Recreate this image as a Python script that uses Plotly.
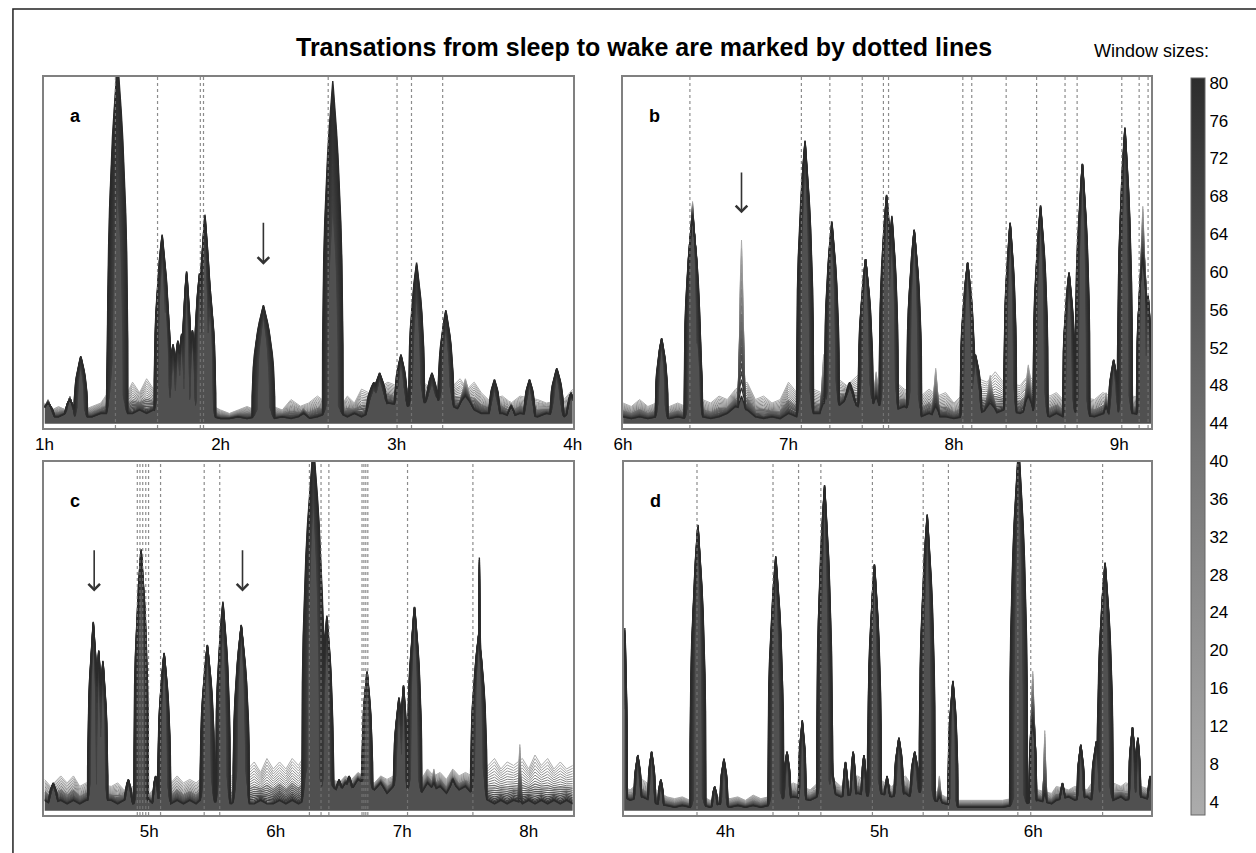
import numpy as np
import plotly.graph_objects as go

W, H = 1256, 853
FONT = "Liberation Sans, Arial, Helvetica, sans-serif"

TITLE = "Transations from sleep to wake are marked by dotted lines"
CB_TITLE = "Window sizes:"
WINDOW_SIZES = list(range(4, 84, 4))
CB_TICKS = list(range(4, 84, 4))

# ---------------- panel a ----------------
A_RANGE = [1.0, 4.0]
A_TICKS = [1, 2, 3, 4]
A_TICKTEXT = ["1h", "2h", "3h", "4h"]
A_PEAK_T = [1.02, 1.144, 1.206, 1.39, 1.415, 1.668, 1.69, 1.73, 1.757, 1.779, 1.807, 1.84, 1.88, 1.911, 1.94,
            2.243, 2.47, 2.637, 2.87, 2.903, 3.024, 3.113, 3.2, 3.279, 3.39, 3.555, 3.65, 3.754, 3.909, 3.99]
A_PEAK_DARK = [0.06, 0.07, 0.195, 0.22, 1.05, 0.546, 0.40, 0.23, 0.24, 0.26, 0.44, 0.27, 0.434, 0.603, 0.385,
               0.342, 0.03, 0.988, 0.12, 0.147, 0.20, 0.465, 0.147, 0.328, 0.08, 0.128, 0.05, 0.128, 0.16, 0.09]
A_PEAK_LIGHT = [0.07, 0.08, 0.17, 0.20, 0.68, 0.50, 0.35, 0.20, 0.22, 0.24, 0.40, 0.25, 0.40, 0.55, 0.35,
                0.31, 0.05, 0.63, 0.10, 0.13, 0.18, 0.37, 0.12, 0.28, 0.13, 0.10, 0.06, 0.11, 0.14, 0.08]
A_PEAK_W = [0.03, 0.025, 0.03, 0.03, 0.045, 0.035, 0.025, 0.02, 0.02, 0.02, 0.022, 0.02, 0.025, 0.03, 0.025,
            0.05, 0.03, 0.045, 0.035, 0.035, 0.03, 0.035, 0.03, 0.035, 0.04, 0.025, 0.02, 0.025, 0.03, 0.02]
A_BASE_T = [1.0, 1.04, 1.08, 1.12, 1.17, 1.22, 1.27, 1.32, 1.36, 1.46, 1.5, 1.54, 1.58, 1.62, 1.66, 1.96, 2.0,
            2.05, 2.1, 2.15, 2.2, 2.3, 2.35, 2.4, 2.45, 2.5, 2.55, 2.6, 2.68, 2.72, 2.76, 2.8, 2.84, 2.95, 3.05,
            3.15, 3.22, 3.32, 3.36, 3.4, 3.44, 3.48, 3.52, 3.6, 3.65, 3.7, 3.8, 3.85, 3.95, 4.0]
A_BASE_DARK = [0.05, 0.02, 0.02, 0.03, 0.015, 0.02, 0.02, 0.03, 0.03, 0.03, 0.03, 0.04, 0.03, 0.04, 0.03, 0.02,
               0.015, 0.015, 0.02, 0.015, 0.02, 0.015, 0.02, 0.015, 0.02, 0.015, 0.02, 0.03, 0.03, 0.02, 0.03,
               0.02, 0.03, 0.06, 0.05, 0.06, 0.07, 0.05, 0.04, 0.05, 0.04, 0.03, 0.03, 0.03, 0.02, 0.03, 0.02,
               0.03, 0.02, 0.04]
A_BASE_LIGHT = [0.06, 0.04, 0.05, 0.04, 0.05, 0.04, 0.05, 0.06, 0.09, 0.08, 0.12, 0.09, 0.13, 0.10, 0.12, 0.05,
                0.04, 0.03, 0.04, 0.05, 0.04, 0.05, 0.04, 0.07, 0.05, 0.06, 0.08, 0.06, 0.05, 0.08, 0.06, 0.10,
                0.09, 0.12, 0.10, 0.12, 0.09, 0.11, 0.13, 0.10, 0.12, 0.09, 0.07, 0.08, 0.06, 0.08, 0.07, 0.06,
                0.07, 0.10]
A_DOTTED = [1.403, 1.642, 1.885, 1.903, 2.611, 3.002, 3.084, 3.261]
A_ARROWS = [2.243]

# ---------------- panel b ----------------
B_RANGE = [6.0, 9.194]
B_TICKS = [6, 7, 8, 9]
B_TICKTEXT = ["6h", "7h", "8h", "9h"]
B_PEAK_T = [6.233, 6.42, 6.45, 6.716, 7.1, 7.213, 7.262, 7.37, 7.466, 7.53, 7.593, 7.625, 7.76, 7.89, 8.083,
            8.13, 8.22, 8.34, 8.45, 8.524, 8.696, 8.777, 8.92, 8.966, 9.034, 9.142, 9.174]
B_PEAK_DARK = [0.247, 0.60, 0.27, 0.08, 0.817, 0.06, 0.584, 0.12, 0.475, 0.08, 0.66, 0.60, 0.56, 0.05, 0.465,
               0.20, 0.06, 0.58, 0.08, 0.63, 0.437, 0.75, 0.05, 0.185, 0.855, 0.48, 0.37]
B_PEAK_LIGHT = [0.23, 0.641, 0.25, 0.53, 0.78, 0.20, 0.55, 0.10, 0.47, 0.15, 0.64, 0.55, 0.55, 0.16, 0.46,
                0.18, 0.14, 0.57, 0.17, 0.60, 0.42, 0.74, 0.09, 0.17, 0.82, 0.627, 0.35]
B_PEAK_W = [0.03, 0.04, 0.025, 0.02, 0.04, 0.02, 0.035, 0.03, 0.035, 0.02, 0.035, 0.03, 0.035, 0.02, 0.035,
            0.03, 0.035, 0.03, 0.025, 0.035, 0.03, 0.035, 0.015, 0.025, 0.035, 0.03, 0.02]
B_BASE_T = [6.0, 6.05, 6.1, 6.15, 6.2, 6.28, 6.33, 6.38, 6.48, 6.53, 6.58, 6.63, 6.68, 6.75, 6.8, 6.85, 6.9,
            6.95, 7.0, 7.05, 7.15, 7.2, 7.3, 7.35, 7.42, 7.5, 7.55, 7.65, 7.7, 7.8, 7.85, 7.9, 7.95, 8.0, 8.15,
            8.2, 8.25, 8.3, 8.4, 8.45, 8.58, 8.62, 8.66, 8.73, 8.85, 8.9, 8.95, 9.08, 9.194]
B_BASE_DARK = [0.02, 0.015, 0.02, 0.015, 0.02, 0.015, 0.02, 0.015, 0.02, 0.015, 0.02, 0.03, 0.05, 0.04, 0.02,
               0.015, 0.02, 0.015, 0.03, 0.02, 0.03, 0.03, 0.05, 0.07, 0.05, 0.06, 0.05, 0.04, 0.05, 0.02, 0.03,
               0.02, 0.02, 0.015, 0.03, 0.04, 0.03, 0.04, 0.03, 0.04, 0.02, 0.03, 0.02, 0.03, 0.02, 0.03, 0.02,
               0.03, 0.02]
B_BASE_LIGHT = [0.06, 0.05, 0.07, 0.05, 0.06, 0.05, 0.06, 0.05, 0.07, 0.06, 0.08, 0.07, 0.10, 0.12, 0.07, 0.08,
                0.06, 0.07, 0.12, 0.09, 0.10, 0.09, 0.13, 0.11, 0.14, 0.12, 0.10, 0.12, 0.10, 0.08, 0.10, 0.08,
                0.09, 0.06, 0.13, 0.12, 0.15, 0.12, 0.11, 0.14, 0.08, 0.09, 0.07, 0.08, 0.07, 0.09, 0.08, 0.08,
                0.07]
B_DOTTED = [6.404, 7.078, 7.25, 7.446, 7.574, 7.605, 8.054, 8.108, 8.316, 8.5, 8.672, 8.745, 9.015, 9.12, 9.174]
B_ARROWS = [6.716]

# ---------------- panel c ----------------
C_RANGE = [4.171, 8.349]
C_TICKS = [5, 6, 7, 8]
C_TICKTEXT = ["5h", "6h", "7h", "8h"]
C_PEAK_T = [4.24, 4.557, 4.6, 4.633, 4.834, 4.935, 5.05, 5.117, 5.459, 5.582, 5.727, 6.297, 6.404, 6.5, 6.58,
            6.722, 6.974, 7.01, 7.097, 7.25, 7.4, 7.605, 7.61, 7.93]
C_PEAK_DARK = [0.08, 0.542, 0.46, 0.43, 0.09, 0.75, 0.10, 0.453, 0.476, 0.60, 0.533, 1.05, 0.56, 0.09, 0.10,
               0.40, 0.325, 0.36, 0.585, 0.08, 0.09, 0.505, 0.726, 0.03]
C_PEAK_LIGHT = [0.07, 0.52, 0.44, 0.40, 0.08, 0.73, 0.09, 0.44, 0.46, 0.55, 0.52, 0.90, 0.50, 0.08, 0.09,
                0.38, 0.30, 0.34, 0.57, 0.12, 0.10, 0.50, 0.60, 0.19]
C_PEAK_W = [0.03, 0.035, 0.025, 0.03, 0.025, 0.045, 0.02, 0.04, 0.045, 0.045, 0.05, 0.07, 0.04, 0.03, 0.03,
            0.035, 0.035, 0.025, 0.045, 0.03, 0.03, 0.05, 0.006, 0.015]
C_BASE_T = [4.171, 4.22, 4.3, 4.35, 4.4, 4.45, 4.5, 4.7, 4.75, 4.8, 4.87, 5.0, 5.03, 5.07, 5.17, 5.22, 5.27,
            5.32, 5.37, 5.4, 5.65, 5.68, 5.78, 5.83, 5.88, 5.93, 5.98, 6.03, 6.08, 6.13, 6.18, 6.23, 6.26, 6.45,
            6.5, 6.55, 6.6, 6.65, 6.78, 6.83, 6.88, 6.93, 7.15, 7.2, 7.25, 7.3, 7.35, 7.4, 7.45, 7.5, 7.55,
            7.68, 7.73, 7.78, 7.83, 7.88, 7.95, 8.0, 8.05, 8.1, 8.15, 8.2, 8.25, 8.3, 8.349]
C_BASE_DARK = [0.03, 0.02, 0.03, 0.02, 0.03, 0.02, 0.03, 0.03, 0.02, 0.03, 0.02, 0.03, 0.02, 0.03, 0.02, 0.03,
               0.02, 0.03, 0.02, 0.03, 0.02, 0.03, 0.02, 0.02, 0.03, 0.02, 0.02, 0.03, 0.02, 0.03, 0.02, 0.03,
               0.02, 0.07, 0.05, 0.08, 0.06, 0.09, 0.06, 0.08, 0.05, 0.07, 0.05, 0.08, 0.06, 0.07, 0.05, 0.08,
               0.06, 0.07, 0.05, 0.03, 0.02, 0.03, 0.02, 0.03, 0.02, 0.03, 0.02, 0.03, 0.02, 0.03, 0.02, 0.03,
               0.02]
C_BASE_LIGHT = [0.09, 0.07, 0.10, 0.08, 0.10, 0.07, 0.08, 0.07, 0.08, 0.06, 0.07, 0.05, 0.06, 0.05, 0.08, 0.10,
                0.08, 0.09, 0.08, 0.09, 0.10, 0.11, 0.12, 0.14, 0.11, 0.15, 0.12, 0.14, 0.12, 0.15, 0.13, 0.16,
                0.10, 0.09, 0.08, 0.10, 0.09, 0.11, 0.08, 0.10, 0.09, 0.10, 0.09, 0.12, 0.10, 0.11, 0.09, 0.12,
                0.10, 0.11, 0.10, 0.13, 0.15, 0.12, 0.14, 0.13, 0.15, 0.12, 0.16, 0.13, 0.15, 0.12, 0.14, 0.12,
                0.13]
C_DOTTED = [4.905, 4.926, 4.948, 4.972, 4.994, 5.089, 5.434, 5.557, 6.266, 6.358, 6.42,
            6.682, 6.697, 6.712, 6.728, 7.042, 7.559]
C_ARROWS = [4.564, 5.737]

# ---------------- panel d ----------------
D_RANGE = [3.341, 6.768]
D_TICKS = [4, 5, 6]
D_TICKTEXT = ["4h", "5h", "6h"]
D_PEAK_T = [3.346, 3.43, 3.52, 3.58, 3.821, 3.93, 3.99, 4.327, 4.4, 4.499, 4.644, 4.69, 4.78, 4.83, 4.9, 4.968,
            5.05, 5.127, 5.23, 5.311, 5.39, 5.478, 5.905, 5.997, 6.075, 6.19, 6.309, 6.41, 6.467, 6.645, 6.68, 6.76]
D_PEAK_DARK = [0.524, 0.16, 0.17, 0.09, 0.82, 0.07, 0.15, 0.73, 0.17, 0.26, 0.934, 0.12, 0.14, 0.17, 0.16, 0.707,
               0.10, 0.21, 0.17, 0.85, 0.04, 0.373, 1.05, 0.26, 0.05, 0.08, 0.19, 0.20, 0.712, 0.24, 0.21, 0.10]
D_PEAK_LIGHT = [0.40, 0.15, 0.16, 0.08, 0.80, 0.06, 0.13, 0.70, 0.16, 0.24, 0.90, 0.11, 0.13, 0.16, 0.15, 0.69,
                0.09, 0.20, 0.16, 0.82, 0.10, 0.36, 0.95, 0.40, 0.23, 0.07, 0.18, 0.18, 0.69, 0.23, 0.20, 0.09]
D_PEAK_W = [0.012, 0.02, 0.02, 0.015, 0.04, 0.015, 0.02, 0.04, 0.02, 0.02, 0.04, 0.02, 0.015, 0.015, 0.015, 0.035,
            0.015, 0.025, 0.025, 0.04, 0.015, 0.025, 0.045, 0.02, 0.012, 0.015, 0.02, 0.025, 0.04, 0.02, 0.015, 0.015]
D_BASE_T = [3.341, 3.38, 3.46, 3.55, 3.62, 3.67, 3.72, 3.77, 3.86, 3.9, 3.96, 4.03, 4.08, 4.13, 4.18, 4.23, 4.28,
            4.37, 4.44, 4.55, 4.6, 4.7, 4.75, 4.86, 4.93, 5.0, 5.08, 5.17, 5.2, 5.26, 5.35, 5.43, 5.52, 5.6, 5.7,
            5.8, 5.86, 5.95, 6.03, 6.12, 6.15, 6.23, 6.27, 6.35, 6.38, 6.43, 6.52, 6.57, 6.6, 6.7, 6.768]
D_BASE_DARK = [0.04, 0.03, 0.04, 0.02, 0.015, 0.01, 0.015, 0.01, 0.015, 0.01, 0.02, 0.01, 0.015, 0.01, 0.015,
               0.01, 0.015, 0.03, 0.04, 0.03, 0.04, 0.05, 0.04, 0.05, 0.04, 0.05, 0.04, 0.05, 0.04, 0.05, 0.03,
               0.02, 0.01, 0.01, 0.01, 0.01, 0.015, 0.02, 0.03, 0.02, 0.03, 0.04, 0.03, 0.04, 0.03, 0.04, 0.03,
               0.04, 0.03, 0.04, 0.03]
D_BASE_LIGHT = [0.07, 0.06, 0.09, 0.06, 0.04, 0.035, 0.04, 0.03, 0.04, 0.03, 0.04, 0.035, 0.04, 0.03, 0.045,
                0.035, 0.04, 0.06, 0.08, 0.06, 0.08, 0.09, 0.07, 0.10, 0.08, 0.09, 0.07, 0.10, 0.08, 0.09, 0.06,
                0.04, 0.03, 0.03, 0.03, 0.03, 0.035, 0.05, 0.06, 0.05, 0.07, 0.06, 0.07, 0.06, 0.08, 0.06, 0.08,
                0.07, 0.08, 0.07, 0.06]
D_DOTTED = [3.815, 4.309, 4.475, 4.62, 4.955, 5.285, 5.449, 5.9, 5.984, 6.451]
D_ARROWS = []

# ---------------- layout geometry (pixels) ----------------
PANELS = [
    dict(key="a", x=(36, 572), y=(77, 428), rng=A_RANGE, ticks=A_TICKS, tt=A_TICKTEXT,
         pt=A_PEAK_T, pd=A_PEAK_DARK, pl=A_PEAK_LIGHT, pw=A_PEAK_W,
         bt=A_BASE_T, bd=A_BASE_DARK, bl=A_BASE_LIGHT, dots=A_DOTTED, arrows=A_ARROWS, arrow_y=(0.584, 0.459)),
    dict(key="b", x=(623, 1159), y=(77, 428), rng=B_RANGE, ticks=B_TICKS, tt=B_TICKTEXT,
         pt=B_PEAK_T, pd=B_PEAK_DARK, pl=B_PEAK_LIGHT, pw=B_PEAK_W,
         bt=B_BASE_T, bd=B_BASE_DARK, bl=B_BASE_LIGHT, dots=B_DOTTED, arrows=B_ARROWS, arrow_y=(0.729, 0.607)),
    dict(key="c", x=(36, 572), y=(462, 815), rng=C_RANGE, ticks=C_TICKS, tt=C_TICKTEXT,
         pt=C_PEAK_T, pd=C_PEAK_DARK, pl=C_PEAK_LIGHT, pw=C_PEAK_W,
         bt=C_BASE_T, bd=C_BASE_DARK, bl=C_BASE_LIGHT, dots=C_DOTTED, arrows=C_ARROWS, arrow_y=(0.751, 0.629)),
    dict(key="d", x=(624, 1159), y=(462, 815), rng=D_RANGE, ticks=D_TICKS, tt=D_TICKTEXT,
         pt=D_PEAK_T, pd=D_PEAK_DARK, pl=D_PEAK_LIGHT, pw=D_PEAK_W,
         bt=D_BASE_T, bd=D_BASE_DARK, bl=D_BASE_LIGHT, dots=D_DOTTED, arrows=D_ARROWS, arrow_y=(0.75, 0.63)),
]

PROFILE_U = (0.0, 0.05, 0.12, 0.22, 0.35, 0.5, 0.65, 0.78, 0.88, 0.95, 0.985, 1.0)


def gray(w):
    f = (w - 4) / 76.0
    v = int(round(172 - f * 130))
    return f"rgb({v},{v},{v})"


def window_line(p, w):
    f = (w - 4) / 76.0
    n = min(len(p["bt"]), len(p["bd"]), len(p["bl"]))
    bt = np.array(p["bt"][:n])
    bd = np.array(p["bd"][:n])
    bl = np.array(p["bl"][:n])
    g = (1 - f) ** 1.4
    xs = set(bt.tolist())
    spans = []
    for t, hd, hl, hw in zip(p["pt"], p["pd"], p["pl"], p["pw"]):
        s = hw * (0.7 + 0.6 * f)
        h = hl + (hd - hl) * f
        spans.append((t, h, s))
        for u in PROFILE_U:
            xs.add(t + u * s)
            xs.add(t - u * s)
    xs = np.array(sorted(xs))
    xs = xs[(xs >= p["rng"][0]) & (xs <= p["rng"][1])]
    base = np.interp(xs, bt, bd + (bl - bd) * g)
    y = base.copy()
    for t, h, s in spans:
        u = np.abs(xs - t) / s
        prof = np.where(u < 1, h * np.clip(1 - u, 0, 1) ** 0.35, 0)
        y = np.maximum(y, prof)
    return xs, y


fig = go.Figure()
annotations = []
for i, p in enumerate(PANELS):
    n = "" if i == 0 else str(i + 1)
    xa, ya = "x" + n, "y" + n
    x0, x1 = p["x"][0] / W, p["x"][1] / W
    y0, y1 = (H - p["y"][1]) / H, (H - p["y"][0]) / H
    axis_common = dict(showgrid=False, zeroline=False, showline=True, mirror=True,
                       linecolor="#808080", linewidth=1.6, ticks="")
    fig.layout["xaxis" + n] = dict(domain=[x0, x1], anchor=ya, range=p["rng"], tickvals=p["ticks"],
                                   ticktext=p["tt"], tickfont=dict(size=17, color="black", family=FONT),
                                   **axis_common)
    fig.layout["yaxis" + n] = dict(domain=[y0, y1], anchor=xa, range=[-0.012, 1.0], showticklabels=False,
                                   **axis_common)
    for w in WINDOW_SIZES:
        lx, ly = window_line(p, w)
        top = w == WINDOW_SIZES[-1]
        fig.add_trace(go.Scatter(x=lx, y=ly, mode="lines", xaxis=xa, yaxis=ya, showlegend=False,
                                 fill="tozeroy" if top else None,
                                 fillcolor="rgba(42,42,42,0.82)" if top else None,
                                 line=dict(color=gray(w), width=1.4 if w >= 40 else 1.0), hoverinfo="skip"))
    # dotted transition lines (drawn on top, faint)
    dx, dy = [], []
    for t in p["dots"]:
        dx += [t, t, None]
        dy += [-0.012, 1.0, None]
    fig.add_trace(go.Scatter(x=dx, y=dy, mode="lines", xaxis=xa, yaxis=ya, showlegend=False,
                             line=dict(color="rgba(120,120,120,0.85)", width=1.2, dash="dot"), hoverinfo="skip"))
    annotations.append(dict(text=f"<b>{p['key']}</b>", xref=xa + " domain", yref=ya + " domain",
                            x=0.045, y=0.89, showarrow=False, xanchor="left", yanchor="middle",
                            font=dict(size=18, color="black", family=FONT)))
    for t in p["arrows"]:
        annotations.append(dict(x=t, y=p["arrow_y"][1], ax=t, ay=p["arrow_y"][0], xref=xa, yref=ya,
                                axref=xa, ayref=ya, text="", showarrow=True, arrowhead=4,
                                arrowsize=1.4, arrowwidth=1.6, arrowcolor="#333"))

# colorbar
fig.add_trace(go.Scatter(x=[A_RANGE[0]], y=[-5], mode="markers", xaxis="x", yaxis="y", showlegend=False,
                         hoverinfo="skip",
                         marker=dict(color=[4], cmin=2.6, cmax=80.5,
                                     colorscale=[[0, "rgb(172,172,172)"], [0.5, "rgb(115,115,115)"],
                                                 [1, "rgb(45,45,45)"]],
                                     showscale=True,
                                     colorbar=dict(x=1199 / W, xanchor="left", xpad=0, ypad=0,
                                                   y=(H - 446.5) / H, yanchor="middle",
                                                   len=737 / H, lenmode="fraction", thickness=14,
                                                   thicknessmode="pixels", outlinewidth=1, outlinecolor="#666",
                                                   tickvals=CB_TICKS, ticktext=[str(v) for v in CB_TICKS],
                                                   ticks="", tickfont=dict(size=17, color="black", family=FONT)))))

annotations.append(dict(text=f"<b>{TITLE}</b>", xref="paper", yref="paper", x=644 / W, y=(H - 47) / H,
                        showarrow=False, xanchor="center", yanchor="middle",
                        font=dict(size=25, color="black", family=FONT)))
annotations.append(dict(text=CB_TITLE, xref="paper", yref="paper", x=1159 / W, y=(H - 51) / H,
                        showarrow=False, xanchor="center", yanchor="middle",
                        font=dict(size=18, color="black", family=FONT)))

fig.update_layout(
    width=W, height=H, margin=dict(l=0, r=0, t=0, b=0),
    paper_bgcolor="white", plot_bgcolor="white",
    annotations=annotations, hovermode=False,
    shapes=[dict(type="rect", xref="paper", yref="paper", x0=4 / W, x1=1.01, y0=-0.01, y1=(H - 9) / H,
                 line=dict(color="#222", width=1.5), fillcolor="rgba(0,0,0,0)", layer="below")],
)

fig.write_html("out.html")
